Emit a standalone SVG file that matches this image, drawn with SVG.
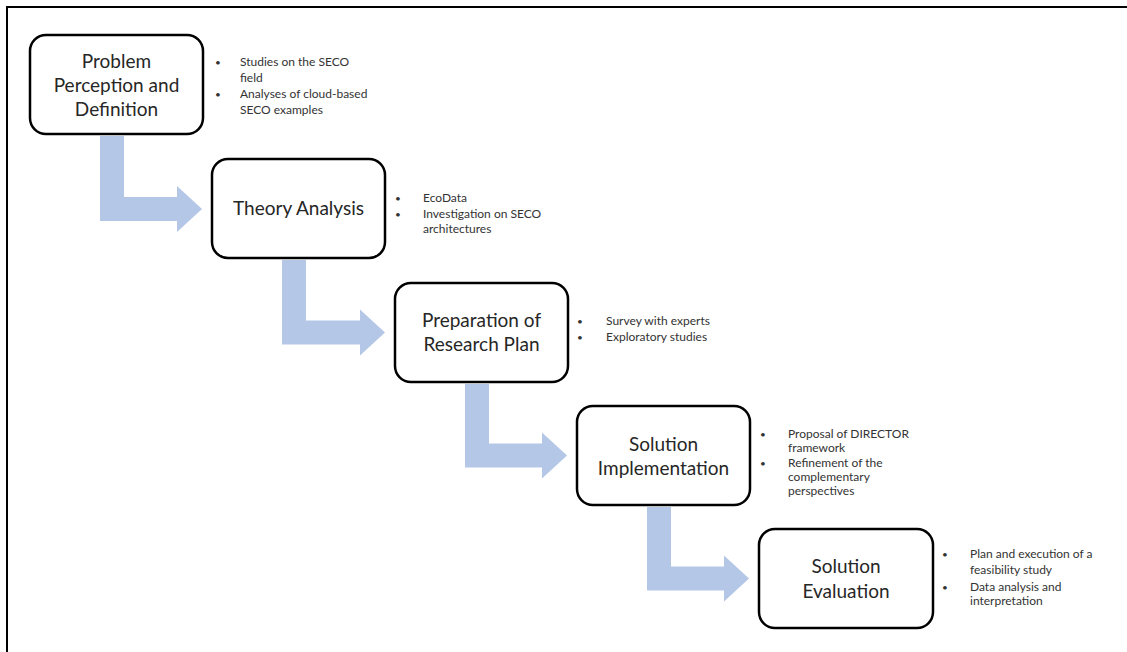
<svg xmlns="http://www.w3.org/2000/svg" width="1127" height="652" viewBox="0 0 1127 652">
<style>
.box{fill:#fff;stroke:#000;stroke-width:2.5}
.t{font-family:Lato,"Liberation Sans",sans-serif;font-size:19px;fill:#262626;text-anchor:middle}
.b{font-family:Lato,"Liberation Sans",sans-serif;font-size:12px;fill:#333}
.d{font-family:Lato,"Liberation Sans",sans-serif;font-size:10px;fill:#333}
.arr{fill:#b4c7e7;stroke:none}
</style>
<rect x="0" y="0" width="1127" height="652" fill="#fff"/>
<rect x="7" y="7" width="1140" height="660" fill="none" stroke="#000" stroke-width="2"/>
<g id="connectors">
<path class="arr" d="M100,136 H124 V197 H177 V186 L202,209 L177,232 V221 H100 Z"/>
<path class="arr" d="M282,260 H306 V320.5 H360 V309.5 L385,332.5 L360,355.5 V344.5 H282 Z"/>
<path class="arr" d="M465,384 H489 V443.5 H542 V432.5 L567,455.5 L542,478.5 V467.5 H465 Z"/>
<path class="arr" d="M647,507 H671 V566.5 H724 V555.5 L749,578.5 L724,601.5 V590.5 H647 Z"/>
</g>
<g id="n1">
<rect class="box" x="30" y="35" width="173" height="99" rx="16"/>
<text class="t" x="116.5" y="68">Problem</text>
<text class="t" x="116.5" y="92">Perception and</text>
<text class="t" x="116.5" y="116">Definition</text>
<text class="d" x="215" y="66">•</text><text class="b" x="240" y="66">Studies on the SECO</text>
<text class="b" x="240" y="82">field</text>
<text class="d" x="215" y="98">•</text><text class="b" x="240" y="98">Analyses of cloud-based</text>
<text class="b" x="240" y="114">SECO examples</text>
</g>
<g id="n2">
<rect class="box" x="212" y="159" width="173" height="99" rx="16"/>
<text class="t" x="298.5" y="215">Theory Analysis</text>
<text class="d" x="395" y="202">•</text><text class="b" x="423" y="202">EcoData</text>
<text class="d" x="395" y="218">•</text><text class="b" x="423" y="218">Investigation on SECO</text>
<text class="b" x="423" y="233">architectures</text>
</g>
<g id="n3">
<rect class="box" x="395" y="283" width="173" height="99" rx="16"/>
<text class="t" x="481.5" y="327">Preparation of</text>
<text class="t" x="481.5" y="351">Research Plan</text>
<text class="d" x="577" y="325">•</text><text class="b" x="606" y="325">Survey with experts</text>
<text class="d" x="577" y="341">•</text><text class="b" x="606" y="341">Exploratory studies</text>
</g>
<g id="n4">
<rect class="box" x="577" y="406" width="173" height="99" rx="16"/>
<text class="t" x="663.5" y="451">Solution</text>
<text class="t" x="663.5" y="475">Implementation</text>
<text class="d" x="760" y="438">•</text><text class="b" x="788" y="438">Proposal of DIRECTOR</text>
<text class="b" x="788" y="452">framework</text>
<text class="d" x="760" y="467">•</text><text class="b" x="788" y="467">Refinement of the</text>
<text class="b" x="788" y="481">complementary</text>
<text class="b" x="788" y="495">perspectives</text>
</g>
<g id="n5">
<rect class="box" x="759" y="529" width="174" height="99" rx="16"/>
<text class="t" x="846" y="573">Solution</text>
<text class="t" x="846" y="598">Evaluation</text>
<text class="d" x="942" y="558">•</text><text class="b" x="970" y="558">Plan and execution of a</text>
<text class="b" x="970" y="574">feasibility study</text>
<text class="d" x="942" y="591">•</text><text class="b" x="970" y="591">Data analysis and</text>
<text class="b" x="970" y="605">interpretation</text>
</g>
</svg>
